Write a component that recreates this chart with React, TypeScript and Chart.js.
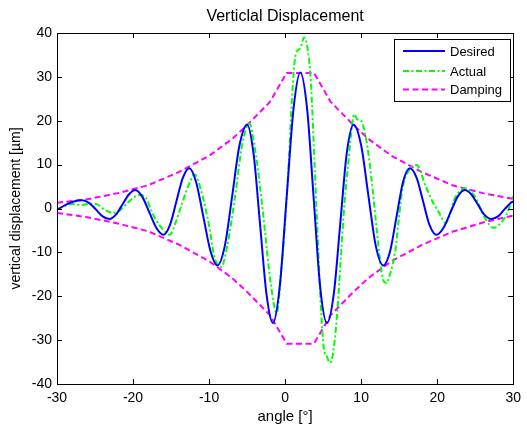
import React, { useEffect, useRef } from "react";
import { Chart, registerables } from "chart.js";

Chart.register(...registerables);

const FONT = "'Liberation Sans', Arial, Helvetica, sans-serif";

const titleText = "Verticlal Displacement";
const xAxisTitle = "angle [°]";
const yAxisTitle = "vertical displacement [µm]";
const legendLabels = ["Desired", "Actual", "Damping"];

const xTickValues = [-30, -20, -10, 0, 10, 20, 30];
const yTickValues = [-40, -30, -20, -10, 0, 10, 20, 30, 40];

const desiredX = [
  -30, -28.8, -27.8, -26.7, -25.8, -24.9, -24.0, -23.1, -22.25, -21.4, -20.55, -19.7,
  -18.8, -17.85, -16.9, -16.0, -15.15, -14.3, -13.45, -12.6, -11.7, -10.75, -9.8, -8.9,
  -7.9, -6.95, -6.0, -5.0, -4.15, -3.3, -2.45, -1.6, -0.7, 0.2, 1.1, 2.0,
  2.9, 3.75, 4.6, 5.5, 6.4, 7.25, 8.1, 9.0, 10.0, 10.95, 11.9, 12.9,
  13.8, 14.65, 15.5, 16.4, 17.3, 18.15, 19.0, 19.9, 20.8, 21.75, 22.7, 23.6,
  24.5, 25.35, 26.2, 27.1, 28.0, 28.85, 29.7, 30,
];
const desiredY = [
  -0.3, 0.9, 1.6, 1.9, 1.3, -0.2, -1.8, -2.4, -1.4, 0.9, 3.2, 4.2,
  2.7, -0.9, -4.5, -6.0, -3.8, 1.6, 7.0, 9.2, 6.0, -1.9, -9.8, -13.0,
  -8.3, 3.0, 14.4, 19.1, 12.5, -3.5, -19.5, -26.1, -17.7, 2.5, 22.6, 31.0,
  22.6, 2.5, -17.7, -26.1, -19.5, -3.5, 12.5, 19.1, 14.4, 3.0, -8.3, -13.0,
  -9.8, -1.9, 6.0, 9.2, 7.0, 1.6, -3.8, -6.0, -4.5, -0.9, 2.7, 4.2,
  3.2, 0.9, -1.4, -2.4, -1.8, -0.2, 1.3, 1.6,
];

const actualX = [
  -30, -29, -28, -26.8, -25.6, -24.8, -23.8, -22.7, -21.9, -21, -20, -19.1,
  -18.3, -17.6, -17, -16, -15.2, -14.4, -13.7, -12.4, -11.9, -11.2, -10.1, -9.3,
  -8.4, -7.6, -6.6, -5.6, -4.7, -4.0, -3.3, -2.6, -1.9, -1.1, -0.5, 0,
  0.5, 0.9, 1.4, 2.0, 2.5, 3.0, 3.4, 3.9, 4.3, 4.7, 5.1, 5.5,
  5.9, 6.3, 6.8, 7.3, 7.8, 8.4, 8.8, 9.1, 9.5, 10.0, 10.4, 11.0,
  11.5, 12.0, 12.5, 12.9, 13.3, 13.8, 14.5, 14.9, 15.4, 16.3, 17.3, 18.5,
  19.5, 20.2, 21.1, 22.4, 23.7, 25.0, 26.3, 27.4, 28.2, 29.0, 29.6, 30,
];
const actualY = [
  -0.3, 0.6, 1.0, 0.8, 1.1, 1.0, -0.2, -1.0, -0.6, 0.8, 2.4, 3.1,
  2.4, -0.5, -2.6, -4.9, -6.0, -3.2, 0.4, 6.5, 7.8, 5.0, -3.0, -11.0,
  -13.3, -8.5, 2.5, 15.0, 19.4, 14.0, 5.0, -6.0, -17.0, -23.8, -14.0, -3.0,
  11.0, 25.0, 35.2, 36.5, 39.0, 36.0, 28.4, 9.0, -7.0, -22.4, -32.0, -33.8,
  -35.2, -33.0, -25.0, -12.0, 1.0, 12.0, 19.0, 21.5, 20.3, 20.0, 18.0, 12.0,
  4.5, -4.0, -12.0, -16.3, -17.0, -15.0, -9.5, -3.3, 4.2, 8.8, 9.9, 5.0,
  1.2, -0.8, -3.3, 2.6, 4.6, 2.6, -2.2, -4.4, -3.6, -1.8, 0.8, 2.8,
];

const dampingX = [-30, -26, -22, -18, -14, -10, -7, -5, -2, 0.2, 3.8, 6, 9, 11, 14, 18, 22, 26, 30];
const dampingUpper = [1.3, 2.1, 3.5, 5.3, 8.3, 12.0, 15.8, 19.0, 24.3, 30.9, 30.9, 24.3, 19.0, 15.8, 12.0, 8.3, 5.3, 3.5, 2.2];
const dampingLower = [-1.0, -2.0, -3.4, -5.2, -8.2, -12.0, -15.8, -19.0, -24.3, -30.8, -30.8, -24.3, -19.0, -15.8, -12.0, -8.3, -5.3, -3.2, -1.6];

const BLUE = "#0000ff";
const GREEN = "#00ff00";
const MAGENTA = "#ff00ff";
const GREEN_DASH = [6, 2.5, 2, 2.5];
const MAGENTA_DASH = [6, 3.5];

const toPoints = (xs: number[], ys: number[]) => xs.map((x, i) => ({ x, y: ys[i] }));

const matlabPlugin = {
  id: "matlabDecor",
  afterDatasetsDraw(chart: any) {
    const { ctx, chartArea, scales } = chart;
    const { left, right, top, bottom } = chartArea;
    ctx.save();
    // box
    ctx.strokeStyle = "#000";
    ctx.lineWidth = 1;
    ctx.setLineDash([]);
    ctx.strokeRect(Math.round(left) + 0.5, Math.round(top) + 0.5, Math.round(right - left), Math.round(bottom - top));
    // inward ticks
    const tl = 5;
    ctx.beginPath();
    xTickValues.forEach((v) => {
      const px = Math.round(scales.x.getPixelForValue(v)) + 0.5;
      ctx.moveTo(px, bottom);
      ctx.lineTo(px, bottom - tl);
      ctx.moveTo(px, top);
      ctx.lineTo(px, top + tl);
    });
    yTickValues.forEach((v) => {
      const py = Math.round(scales.y.getPixelForValue(v)) + 0.5;
      ctx.moveTo(left, py);
      ctx.lineTo(left + tl, py);
      ctx.moveTo(right, py);
      ctx.lineTo(right - tl, py);
    });
    ctx.stroke();

    // title
    ctx.fillStyle = "#000";
    ctx.font = `16px ${FONT}`;
    ctx.textAlign = "center";
    ctx.textBaseline = "middle";
    ctx.fillText(titleText, (left + right) / 2, 17);

    // legend
    const bx = 394.5, by = 39.5, bw = 116, bh = 62;
    ctx.fillStyle = "#fff";
    ctx.fillRect(bx, by, bw, bh);
    ctx.strokeStyle = "#000";
    ctx.lineWidth = 1;
    ctx.strokeRect(bx, by, bw, bh);
    const rows = [
      { y: 51, color: BLUE, dash: [] as number[] },
      { y: 71, color: GREEN, dash: GREEN_DASH },
      { y: 89.5, color: MAGENTA, dash: MAGENTA_DASH },
    ];
    rows.forEach((r, i) => {
      ctx.beginPath();
      ctx.strokeStyle = r.color;
      ctx.lineWidth = 2;
      ctx.setLineDash(r.dash);
      ctx.moveTo(403, r.y);
      ctx.lineTo(445, r.y);
      ctx.stroke();
      ctx.setLineDash([]);
      ctx.fillStyle = "#000";
      ctx.font = `13px ${FONT}`;
      ctx.textAlign = "left";
      ctx.textBaseline = "middle";
      ctx.fillText(legendLabels[i], 450, r.y + 1);
    });
    ctx.restore();
  },
};

export default function App() {
  const canvasRef = useRef<HTMLCanvasElement | null>(null);

  useEffect(() => {
    if (!canvasRef.current) return;
    const chart = new Chart(canvasRef.current, {
      type: "scatter",
      data: {
        datasets: [
          {
            label: legendLabels[0],
            data: toPoints(desiredX, desiredY),
            showLine: true,
            borderColor: BLUE,
            borderWidth: 2,
            pointRadius: 0,
            cubicInterpolationMode: "monotone",
          },
          {
            label: legendLabels[1],
            data: toPoints(actualX, actualY),
            showLine: true,
            borderColor: GREEN,
            borderWidth: 2,
            borderDash: GREEN_DASH,
            pointRadius: 0,
            cubicInterpolationMode: "monotone",
          },
          {
            label: legendLabels[2],
            data: toPoints(dampingX, dampingUpper),
            showLine: true,
            borderColor: MAGENTA,
            borderWidth: 2,
            borderDash: MAGENTA_DASH,
            pointRadius: 0,
            tension: 0,
          },
          {
            label: legendLabels[2] + " (lower)",
            data: toPoints(dampingX, dampingLower),
            showLine: true,
            borderColor: MAGENTA,
            borderWidth: 2,
            borderDash: MAGENTA_DASH,
            pointRadius: 0,
            tension: 0,
          },
        ],
      },
      options: {
        responsive: false,
        animation: false,
        layout: { padding: { left: 0, top: 33, right: 12, bottom: 0 } },
        plugins: {
          legend: { display: false },
          title: { display: false },
          tooltip: { enabled: false },
        },
        scales: {
          x: {
            type: "linear",
            min: -30,
            max: 30,
            afterFit: (s: any) => {
              s.height = 42;
            },
            afterBuildTicks: (s: any) => {
              s.ticks = xTickValues.map((v) => ({ value: v }));
            },
            grid: { display: false, drawTicks: false },
            border: { display: false },
            ticks: { color: "#000", font: { family: FONT, size: 14 }, padding: 6, maxRotation: 0 },
            title: {
              display: true,
              text: xAxisTitle,
              color: "#000",
              font: { family: FONT, size: 15 },
              padding: { top: 0, bottom: 0 },
            },
          },
          y: {
            type: "linear",
            min: -40,
            max: 40,
            afterFit: (s: any) => {
              s.width = 57;
            },
            afterBuildTicks: (s: any) => {
              s.ticks = yTickValues.map((v) => ({ value: v }));
            },
            grid: { display: false, drawTicks: false },
            border: { display: false },
            ticks: { color: "#000", font: { family: FONT, size: 14 }, padding: 5 },
            title: {
              display: true,
              text: yAxisTitle,
              color: "#000",
              font: { family: FONT, size: 14 },
              padding: { top: 8, bottom: 0 },
            },
          },
        },
      },
      plugins: [matlabPlugin],
    } as any);
    return () => chart.destroy();
  }, []);

  return (
    <div style={{ position: "absolute", left: 0, top: 0, width: 527, height: 426, background: "#fff" }}>
      <canvas ref={canvasRef} width={527} height={426} />
    </div>
  );
}
